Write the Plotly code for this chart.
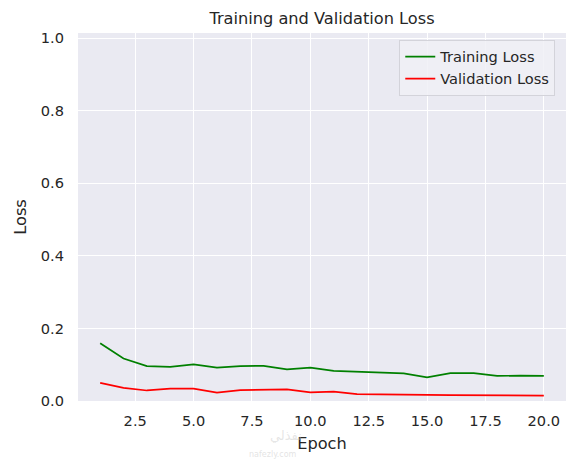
import plotly.graph_objects as go

epochs = list(range(1, 21))
training_loss = [0.159, 0.117, 0.096, 0.094, 0.101, 0.092, 0.096, 0.097, 0.087, 0.092,
                 0.083, 0.081, 0.077, 0.076, 0.065, 0.077, 0.077, 0.069, 0.070, 0.069]
validation_loss = [0.050, 0.036, 0.029, 0.034, 0.034, 0.023, 0.030, 0.031, 0.032, 0.024,
                   0.026, 0.019, 0.019, 0.018, 0.017, 0.016, 0.016, 0.016, 0.016, 0.015]
x_ticks = [2.5, 5.0, 7.5, 10.0, 12.5, 15.0, 17.5, 20.0]
y_ticks = [0.0, 0.2, 0.4, 0.6, 0.8, 1.0]

TEXT = "#262626"
FONT = "DejaVu Sans"

fig = go.Figure()
fig.add_trace(go.Scatter(x=epochs, y=training_loss, mode="lines", name="Training Loss",
                         line=dict(color="green", width=1.7)))
fig.add_trace(go.Scatter(x=epochs, y=validation_loss, mode="lines", name="Validation Loss",
                         line=dict(color="red", width=1.7)))

# page body has an 8px margin, so the figure is a bit smaller than the window
fig.update_layout(
    width=569, height=455,
    margin=dict(l=64, r=11, t=25, b=62),
    paper_bgcolor="white",
    plot_bgcolor="#EAEAF2",
    font=dict(family=FONT, size=14.6, color=TEXT),
    title=dict(text="Training and Validation Loss", xref="paper", x=0.5, xanchor="center",
               yref="container", y=0.978, yanchor="middle", font=dict(size=16.2, color=TEXT)),
    legend=dict(x=0.978, y=0.982, xanchor="right", yanchor="top",
                bgcolor="rgba(240,240,246,0.85)", bordercolor="#d3d3da", borderwidth=1,
                font=dict(size=14.6, color=TEXT)),
    showlegend=True,
)
fig.update_xaxes(
    range=[0.05, 20.95], tickvals=x_ticks, ticktext=[f"{v:.1f}" for v in x_ticks],
    showgrid=True, gridcolor="white", gridwidth=1.3, zeroline=False,
    showline=False, ticks="", ticklabelstandoff=9,
    title=dict(text="Epoch", font=dict(size=16.2, color=TEXT), standoff=10),
)
fig.update_yaxes(
    range=[0, 1.0138], tickvals=y_ticks, ticktext=[f"{v:.1f}" for v in y_ticks],
    showgrid=True, gridcolor="white", gridwidth=1.3, zeroline=False,
    showline=False, ticks="", ticklabelstandoff=13,
    title=dict(text="Loss", font=dict(size=16.2, color=TEXT), standoff=10),
)

# faint watermark, kept clear of the tick labels and the axis title
fig.add_annotation(text="نفذلي", xref="paper", yref="paper", x=0.427, y=-0.12,
                   showarrow=False, font=dict(family=FONT, size=13, color="rgba(200,200,200,0.45)"))
fig.add_annotation(text="nafezly.com", xref="paper", yref="paper", x=0.40, y=-0.162,
                   showarrow=False, font=dict(family=FONT, size=8, color="rgba(200,200,200,0.5)"))

fig.write_html("out.html")
